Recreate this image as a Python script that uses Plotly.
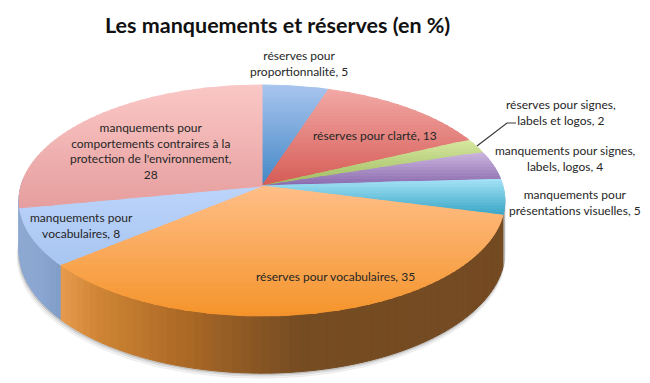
import numpy as np
import plotly.graph_objects as go

title = "Les manquements et réserves (en %)"
categories = [
    "réserves pour<br>proportionnalité",
    "réserves pour clarté",
    "réserves pour signes,<br>labels et logos",
    "manquements pour signes,<br>labels, logos",
    "manquements pour<br>présentations visuelles",
    "réserves pour vocabulaires",
    "manquements pour<br>vocabulaires",
    "manquements pour<br>comportements contraires à la<br>protection de l'environnement,<br>",
]
values = [5, 13, 2, 4, 5, 35, 8, 28]
top_colors = [
    ("#A9C5EE", "#4488C6"), ("#F2A9A6", "#D65C56"), ("#D8E8A0", "#9DBB60"), ("#CDB8E0", "#8A6AAE"),
    ("#A8E4F8", "#38A6C6"), ("#FFBF88", "#F5942C"), ("#BCD4FA", "#A8C6F2"), ("#FAC8C6", "#E69E9E"),
]
label_pos = [(299, 63), (375, 135), (561, 112), (565, 158), (575, 202), (335, 276), (81, 225), (151, 151)]

CX, CY, A, B, K, DEPTH = 262, 186, 241, 113.7, -0.1255, 50


def project(theta_deg, r=1.0):
    t = np.radians(theta_deg)
    u, v = r * np.sin(t), -r * np.cos(t)
    den = 1 + K * v
    return CX + A * u / den, CY + B * v / den, den


def hex2rgb(h):
    return np.array([int(h[i:i + 2], 16) for i in (1, 3, 5)], float)


def mix(c1, c2, t):
    c = hex2rgb(c1) * (1 - t) + hex2rgb(c2) * t
    return f"rgb({c[0]:.0f},{c[1]:.0f},{c[2]:.0f})"


def clip(poly, y0, y1):
    def half(p, inside, cross):
        out = []
        for i in range(len(p)):
            a, b = p[i], p[(i + 1) % len(p)]
            ia, ib = inside(a), inside(b)
            if ia:
                out.append(a)
            if ia != ib:
                yc = cross
                s = (yc - a[1]) / (b[1] - a[1])
                out.append((a[0] + s * (b[0] - a[0]), yc))
        return out
    p = half(poly, lambda q: q[1] >= y0, y0)
    if p:
        p = half(p, lambda q: q[1] <= y1, y1)
    return p


fig = go.Figure()


def add_poly(xs, ys, color):
    fig.add_trace(go.Scatter(x=list(xs) + [xs[0]], y=list(ys) + [ys[0]], mode="lines", fill="toself",
                             fillcolor=color, line=dict(color=color, width=1),
                             hoverinfo="skip", showlegend=False))


# soft shadow under the rim
arc = np.linspace(96, 272, 120)
for off, alpha in ((5, 0.07), (3, 0.10), (1.5, 0.16)):
    xt, yt, dt = project(arc)
    yb = yt + DEPTH / dt + off
    add_poly(list(xt - off * 0.4 * (arc > 180)) + list(xt[::-1]), list(yb) + list(yt[::-1]), f"rgba(90,90,90,{alpha})")

# slice boundaries, clockwise from twelve o'clock
edges = np.concatenate([[0], np.cumsum(values)]) / sum(values) * 360

# side walls
side_stops = {
    5: [(58, "#E89C50"), (100, "#CE8434"), (180, "#AD6A26"), (240, "#905A24"), (300, "#764C22"), (520, "#734A22")],
    6: [(18, "#8EA9D2"), (40, "#8AA6D2"), (62, "#7F9CC6")],
    7: [(10, "#8EA9D2"), (30, "#8EA9D2")],
}
for i, stops in side_stops.items():
    a0, a1 = max(edges[i], 93), min(edges[i + 1], 274)
    grid = np.arange(a0, a1 + 2, 2.0)
    grid[-1] = a1
    sx = [s[0] for s in stops]
    for g0, g1 in zip(grid[:-1], grid[1:]):
        x0, y0, d0 = project(g0)
        x1, y1, d1 = project(g1)
        mx = (x0 + x1) / 2
        k = min(np.searchsorted(sx, mx), len(sx) - 1)
        k = max(k, 1)
        t = np.clip((mx - sx[k - 1]) / (sx[k] - sx[k - 1]), 0, 1)
        add_poly([x0, x1, x1, x0], [y0, y1, y1 + DEPTH / d1, y0 + DEPTH / d0], mix(stops[k - 1][1], stops[k][1], t))

# top faces with vertical colour bands
for i, (c_top, c_bot) in enumerate(top_colors):
    angles = np.linspace(edges[i], edges[i + 1], 80)
    px, py, _ = project(angles)
    poly = [(CX, CY)] + list(zip(px, py))
    ys = [p[1] for p in poly]
    ymin, ymax = min(ys), max(ys)
    n = max(int((ymax - ymin) / 3), 2)
    cuts = np.linspace(ymin, ymax, n + 1)
    for j in range(n):
        band = clip(poly, cuts[j], cuts[j + 1] + 0.5)
        if len(band) >= 3:
            add_poly([b[0] for b in band], [b[1] for b in band], mix(c_top, c_bot, (j + 0.5) / n))

# leader line of the small green slice
fig.add_trace(go.Scatter(x=[477, 507, 516], y=[146, 123, 123], mode="lines",
                         line=dict(color="#3A3A3A", width=1.2), hoverinfo="skip", showlegend=False))

for name, val, (lx, ly) in zip(categories, values, label_pos):
    text = f"{name}{val}" if name.endswith("<br>") else f"{name}, {val}"
    fig.add_annotation(x=lx, y=ly, text=text, showarrow=False, align="center",
                       font=dict(family="Lato, Carlito, sans-serif", size=12, color="#262626"))

fig.add_annotation(x=277, y=25, text=f"<b>{title}</b>", showarrow=False,
                   font=dict(family="Lato, Carlito, sans-serif", size=21.5, color="#111111"))

fig.update_layout(
    width=650, height=383, margin=dict(l=0, r=0, t=0, b=0),
    paper_bgcolor="white", plot_bgcolor="white", showlegend=False,
    xaxis=dict(range=[0, 650], visible=False, fixedrange=True),
    yaxis=dict(range=[383, 0], visible=False, fixedrange=True),
)
fig.write_html("out.html", config={"displayModeBar": False},
               post_script="document.body.style.margin='0';document.body.style.overflow='hidden';")
